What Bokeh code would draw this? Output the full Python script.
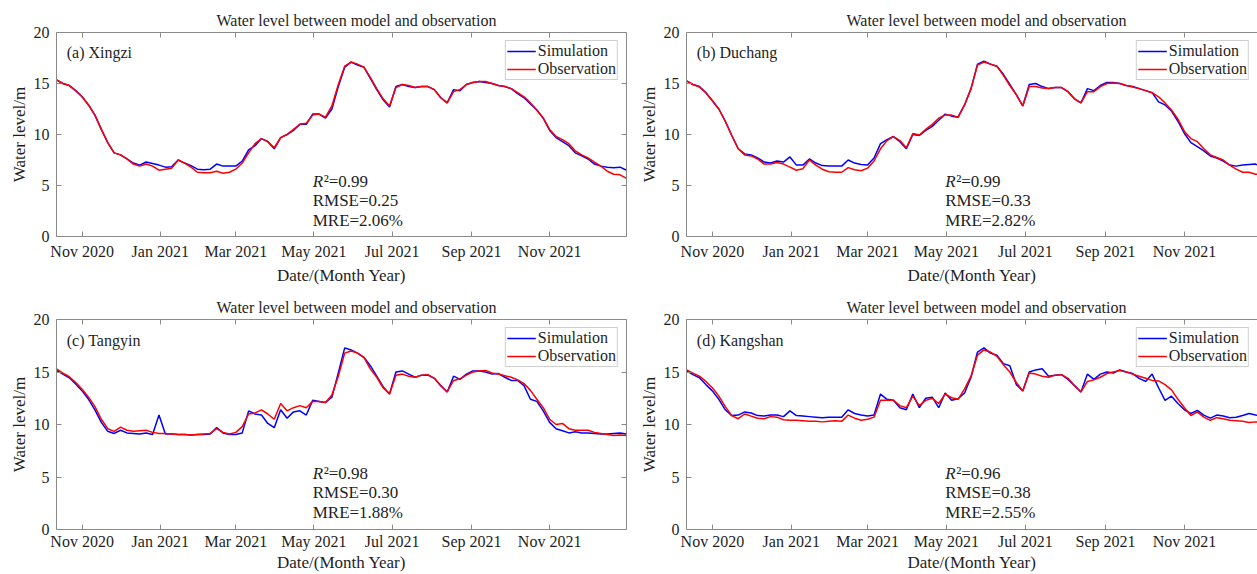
import pandas as pd
from bokeh.plotting import figure
from bokeh.layouts import column, row
from bokeh.models import (LinearAxis, DatetimeAxis, FixedTicker, Range1d,
                          DatetimeTickFormatter)
from bokeh.core.properties import value
from bokeh.embed import file_html
from bokeh.resources import INLINE

# ---------------- data ----------------
START = "2020-10-12"
N_POINTS = 90
DATES = pd.date_range(START, periods=N_POINTS, freq="5D")

TITLE = "Water level between model and observation"
X_LABEL = "Date/(Month Year)"
Y_LABEL = "Water level/m"
STATIONS = ["(a) Xingzi", "(b) Duchang", "(c) Tangyin", "(d) Kangshan"]
R2 = ["0.99", "0.99", "0.98", "0.96"]
RMSE = ["0.25", "0.33", "0.30", "0.38"]
MRE = ["2.06%", "2.82%", "1.88%", "2.55%"]

TICK_DATES = ["2020-11-01", "2021-01-01", "2021-03-01", "2021-05-01",
              "2021-07-01", "2021-09-01", "2021-11-01"]
TICK_LABELS = ["Nov 2020", "Jan 2021", "Mar 2021", "May 2021",
               "Jul 2021", "Sep 2021", "Nov 2021"]
Y_TICKS = [0, 5, 10, 15, 20]

xingzi_obs = [15.35, 15.0, 14.8, 14.3, 13.7, 12.9, 11.9, 10.5, 9.2, 8.2,
              8.0, 7.6, 7.1, 6.9, 7.1, 6.9, 6.5, 6.6, 6.7, 7.5,
              7.2, 6.8, 6.3, 6.25, 6.25, 6.4, 6.2, 6.3, 6.6, 7.2,
              8.2, 9.1, 9.6, 9.3, 8.7, 9.7, 10.0, 10.5, 11.0, 11.1,
              11.9, 12.0, 11.7, 12.8, 14.9, 16.7, 17.1, 16.9, 16.6, 15.6,
              14.5, 13.5, 12.8, 14.6, 14.9, 14.8, 14.6, 14.7, 14.7, 14.4,
              13.6, 13.1, 14.2, 14.4, 14.9, 15.1, 15.2, 15.2, 15.0, 14.8,
              14.7, 14.5, 14.1, 13.7, 13.1, 12.4, 11.6, 10.5, 9.8, 9.5,
              9.1, 8.4, 8.0, 7.7, 7.3, 6.9, 6.4, 6.1, 6.05, 5.7]
xingzi_sim = [15.35, 15.0, 14.8, 14.3, 13.7, 12.9, 11.9, 10.5, 9.2, 8.2,
              8.0, 7.6, 7.2, 7.0, 7.3, 7.15, 7.0, 6.8, 6.85, 7.5,
              7.2, 6.95, 6.6, 6.55, 6.6, 7.1, 6.9, 6.9, 6.9, 7.4,
              8.5, 8.9, 9.6, 9.3, 8.6, 9.7, 10.0, 10.4, 11.0, 11.0,
              12.0, 12.0, 11.6, 12.5, 14.7, 16.6, 17.1, 16.8, 16.6, 15.5,
              14.4, 13.4, 12.7, 14.7, 14.9, 14.7, 14.6, 14.7, 14.7, 14.4,
              13.6, 13.1, 14.4, 14.3, 14.9, 15.1, 15.2, 15.1, 15.0, 14.8,
              14.7, 14.5, 14.0, 13.6, 13.0, 12.4, 11.6, 10.4, 9.7, 9.3,
              8.9, 8.2, 7.9, 7.6, 7.1, 6.9, 6.8, 6.75, 6.8, 6.5]

duchang_obs = [15.25, 14.9, 14.65, 14.1, 13.3, 12.5, 11.3, 9.9, 8.6, 8.0,
               7.9, 7.6, 7.1, 7.1, 7.25, 7.1, 6.8, 6.5, 6.65, 7.5,
               7.0, 6.6, 6.35, 6.3, 6.3, 6.75, 6.55, 6.45, 6.7, 7.4,
               8.6, 9.4, 9.8, 9.4, 8.7, 10.1, 9.95, 10.5, 11.0, 11.6,
               11.9, 11.9, 11.7, 12.9, 14.5, 16.8, 17.1, 16.9, 16.7, 15.8,
               14.8, 13.9, 12.8, 14.7, 14.7, 14.55, 14.5, 14.6, 14.6, 14.2,
               13.5, 13.1, 14.2, 14.2, 14.7, 15.0, 15.05, 15.0, 14.8, 14.65,
               14.5, 14.3, 14.1, 13.7, 13.1, 12.4, 11.5, 10.3, 9.6, 9.3,
               8.6, 8.0, 7.75, 7.5, 7.0, 6.6, 6.3, 6.3, 6.1, 6.1]
duchang_sim = [15.25, 14.9, 14.7, 14.1, 13.3, 12.5, 11.3, 9.9, 8.6, 8.1,
               8.0, 7.7, 7.3, 7.2, 7.4, 7.3, 7.8, 7.0, 7.0, 7.6,
               7.2, 6.95, 6.9, 6.9, 6.9, 7.5, 7.2, 7.05, 7.0, 7.7,
               9.1, 9.5, 9.8, 9.3, 8.6, 10.0, 9.9, 10.4, 10.8, 11.4,
               12.0, 11.8, 11.7, 12.9, 14.5, 16.9, 17.2, 16.9, 16.7, 15.9,
               14.9, 13.9, 12.8, 14.9, 15.0, 14.7, 14.5, 14.6, 14.6, 14.2,
               13.5, 13.1, 14.5, 14.3, 14.8, 15.1, 15.1, 15.0, 14.8, 14.7,
               14.5, 14.3, 14.1, 13.2, 12.9, 12.3, 11.3, 10.1, 9.2, 8.8,
               8.4, 7.9, 7.7, 7.4, 7.0, 6.9, 7.0, 7.05, 7.1, 6.8]

tangyin_obs = [15.3, 14.9, 14.55, 14.0, 13.35, 12.6, 11.7, 10.5, 9.6, 9.35,
               9.75, 9.45, 9.35, 9.4, 9.45, 9.25, 9.15, 9.15, 9.1, 9.05,
               9.05, 9.0, 9.05, 9.1, 9.15, 9.6, 9.25, 9.1, 9.25, 9.8,
               11.0, 11.1, 11.4, 11.0, 10.5, 12.0, 11.3, 11.6, 11.8, 11.6,
               12.2, 12.2, 12.1, 12.8, 14.6, 16.8, 17.0, 16.8, 16.4, 15.3,
               14.5, 13.5, 12.9, 14.7, 14.8, 14.6, 14.5, 14.7, 14.75, 14.4,
               13.7, 13.1, 14.2, 14.35, 14.7, 15.0, 15.1, 15.15, 14.9, 14.8,
               14.65, 14.5, 14.25, 13.9, 13.25, 12.4, 11.6, 10.5, 10.0, 10.1,
               9.6, 9.45, 9.45, 9.45, 9.25, 9.15, 9.05, 8.95, 9.0, 8.95]
tangyin_sim = [15.15, 14.8, 14.45, 13.85, 13.2, 12.4, 11.4, 10.2, 9.35, 9.15,
               9.45, 9.2, 9.15, 9.1, 9.2, 9.05, 10.9, 9.1, 9.1, 9.05,
               9.05, 9.0, 9.05, 9.05, 9.1, 9.7, 9.2, 9.05, 9.05, 9.2,
               11.3, 11.0, 10.9, 10.1, 9.7, 11.4, 10.6, 11.2, 11.3, 10.9,
               12.3, 12.2, 12.1, 12.6, 14.9, 17.3, 17.1, 16.8, 16.4, 15.6,
               14.6, 13.6, 12.9, 15.0, 15.1, 14.8, 14.5, 14.7, 14.7, 14.4,
               13.7, 13.1, 14.6, 14.3, 14.8, 15.1, 15.1, 15.0, 14.8, 14.85,
               14.5, 14.2, 14.2, 13.7, 12.4, 12.2, 11.3, 10.2, 9.6, 9.4,
               9.2, 9.3, 9.2, 9.2, 9.15, 9.1, 9.1, 9.15, 9.2, 9.1]

kangshan_obs = [15.2, 14.9, 14.6, 14.1, 13.5, 12.7, 11.7, 10.85, 10.55, 11.0,
                10.8, 10.6, 10.55, 10.75, 10.7, 10.45, 10.4, 10.4, 10.35, 10.3,
                10.3, 10.25, 10.3, 10.35, 10.3, 10.9, 10.6, 10.4, 10.5, 10.7,
                12.3, 12.3, 12.3, 11.8, 11.6, 12.7, 11.8, 12.3, 12.5, 12.0,
                12.9, 12.55, 12.4, 13.4, 14.6, 16.6, 17.1, 16.9, 16.5, 15.7,
                15.0, 14.0, 13.2, 14.9, 14.8, 14.6, 14.5, 14.7, 14.75, 14.4,
                13.7, 13.1, 14.1, 14.25, 14.5, 14.85, 15.0, 15.15, 15.0, 14.8,
                14.6, 14.4, 14.2, 14.15, 13.8, 13.3, 12.4, 11.6, 10.85, 11.2,
                10.7, 10.4, 10.65, 10.55, 10.4, 10.35, 10.3, 10.2, 10.25, 10.15]
kangshan_sim = [15.1, 14.75, 14.45, 13.8, 13.2, 12.4, 11.4, 10.85, 10.9, 11.2,
                11.1, 10.85, 10.8, 10.9, 10.9, 10.75, 11.3, 10.85, 10.8, 10.75,
                10.7, 10.65, 10.7, 10.7, 10.7, 11.4, 11.05, 10.9, 10.8, 10.9,
                12.9, 12.4, 12.3, 11.6, 11.4, 12.9, 11.6, 12.5, 12.6, 11.6,
                13.0, 12.3, 12.45, 13.0, 14.5, 16.9, 17.3, 16.8, 16.6, 15.8,
                15.6, 13.8, 13.2, 15.0, 15.2, 15.3, 14.6, 14.7, 14.75, 14.3,
                13.7, 13.1, 14.8, 14.3, 14.8, 15.0, 14.9, 15.2, 15.0, 14.85,
                14.4, 14.1, 14.8, 13.5, 12.3, 12.7, 12.0, 11.4, 11.05, 11.35,
                10.9, 10.6, 10.9, 10.8, 10.65, 10.7, 10.85, 11.05, 10.9, 10.85]

SIMS = [xingzi_sim, duchang_sim, tangyin_sim, kangshan_sim]
OBSS = [xingzi_obs, duchang_obs, tangyin_obs, kangshan_obs]

# ---------------- style ----------------
FONT = "Liberation Serif"
TXT = "#1e1e1e"
FRAME = "#8a8a8a"
BLUE = "#0000ff"
RED = "#ff0000"

X0 = pd.Timestamp(START)
TICK_MS = [pd.Timestamp(t).value / 1e6 for t in TICK_DATES]


def ms(ts):
    return ts.value / 1e6


def style_axis(ax, show_labels=True):
    ax.axis_line_color = FRAME
    ax.axis_line_width = 1
    ax.major_tick_line_color = FRAME
    ax.major_tick_in = 5
    ax.major_tick_out = 0
    ax.minor_tick_line_color = None
    ax.major_label_text_font = FONT
    ax.major_label_text_font_size = "16px"
    ax.major_label_text_line_height = 1.0
    ax.major_label_text_color = TXT if show_labels else None
    ax.axis_label_text_font = FONT
    ax.axis_label_text_font_size = "17px"
    ax.axis_label_text_line_height = 1.0
    ax.axis_label_text_font_style = "normal"
    ax.axis_label_text_color = TXT


def make_panel(i, width, height, x_end_days, bl, br, bt, bb, right_axis,
               title_standoff, x_lab_standoff, x_axis_lab_standoff):
    x_end = X0 + pd.Timedelta(days=x_end_days)
    p = figure(width=width, height=height, x_axis_type="datetime",
               x_range=Range1d(ms(X0), ms(x_end)), y_range=Range1d(0, 20),
               output_backend="svg", toolbar_location=None,
               min_border_left=bl, min_border_right=br,
               min_border_top=bt, min_border_bottom=bb)
    p.outline_line_color = None
    p.xgrid.visible = False
    p.ygrid.visible = False
    p.background_fill_color = "white"
    p.border_fill_color = "white"

    p.title.text = TITLE
    p.title.align = "left"
    p.title.offset = 160
    p.title.text_font = FONT
    p.title.text_font_size = "16px"
    p.title.text_font_style = "normal"
    p.title.text_color = TXT
    p.title.standoff = title_standoff

    xa = p.xaxis[0]
    xa.ticker = FixedTicker(ticks=TICK_MS)
    xa.formatter = DatetimeTickFormatter(days="%b %Y", months="%b %Y", years="%b %Y")
    xa.major_label_overrides = dict(zip(TICK_MS, TICK_LABELS))
    xa.axis_label = X_LABEL
    style_axis(xa)
    xa.major_label_standoff = x_lab_standoff
    xa.axis_label_standoff = x_axis_lab_standoff

    ya = p.yaxis[0]
    ya.ticker = FixedTicker(ticks=Y_TICKS)
    ya.axis_label = Y_LABEL
    style_axis(ya)
    ya.major_label_standoff = 7
    ya.axis_label_standoff = 2

    top = DatetimeAxis(ticker=FixedTicker(ticks=TICK_MS))
    style_axis(top, show_labels=False)
    top.major_label_standoff = 0
    p.add_layout(top, "above")
    if right_axis:
        ra = LinearAxis(ticker=FixedTicker(ticks=Y_TICKS))
        style_axis(ra, show_labels=False)
        ra.major_label_standoff = 0
        p.add_layout(ra, "right")

    p.line(DATES, SIMS[i], color=BLUE, line_width=1.5, legend_label="Simulation")
    p.line(DATES, OBSS[i], color=RED, line_width=1.5, legend_label="Observation")

    lg = p.legend[0]
    lg.location = "top_right"
    lg.margin = 8
    lg.padding = 1
    lg.spacing = 0
    lg.glyph_width = 29
    lg.glyph_height = 16
    lg.label_height = 16
    lg.label_standoff = 2
    lg.label_text_font = FONT
    lg.label_text_font_size = "16px"
    lg.label_text_color = TXT
    lg.label_text_line_height = 1.0
    lg.border_line_color = "#a0a0a0"
    lg.border_line_width = 1
    lg.background_fill_alpha = 1.0

    # station label
    p.text(x=[X0 + pd.Timedelta(days=8)], y=[18.0], text=[STATIONS[i]],
           text_font=value(FONT), text_font_size="16px", text_color=TXT,
           text_baseline="middle", text_align="left")

    # statistics
    xs = X0 + pd.Timedelta(days=200)
    p.text(x=[xs], y=[5.35], text=["R"], text_font=value(FONT),
           text_font_size="17px", text_font_style="italic", text_color=TXT,
           text_baseline="middle", text_align="left")
    p.text(x=[xs], y=[5.35], text=["\u00b2=" + R2[i]], text_font=value(FONT),
           text_font_size="17px", text_color=TXT, x_offset=11,
           text_baseline="middle", text_align="left")
    p.text(x=[xs, xs], y=[3.5, 1.6], text=["RMSE=" + RMSE[i], "MRE=" + MRE[i]],
           text_font=value(FONT), text_font_size="17px", text_color=TXT,
           text_baseline="middle", text_align="left")
    return p


pa = make_panel(0, 636, 287, 445, 56, 10, 32, 49, True, 7, 6, 3)
pb = make_panel(1, 621, 287, 441.5, 44, 0, 32, 49, False, 7, 6, 3)
pc = make_panel(2, 636, 287, 445, 56, 10, 32, 44, True, 8, 3, 0)
pd_ = make_panel(3, 621, 287, 441.5, 44, 0, 32, 44, False, 8, 3, 0)

layout = column(row(pa, pb, spacing=0), row(pc, pd_, spacing=0), spacing=0)

with open("out.html", "w") as f:
    f.write(file_html(layout, INLINE))
